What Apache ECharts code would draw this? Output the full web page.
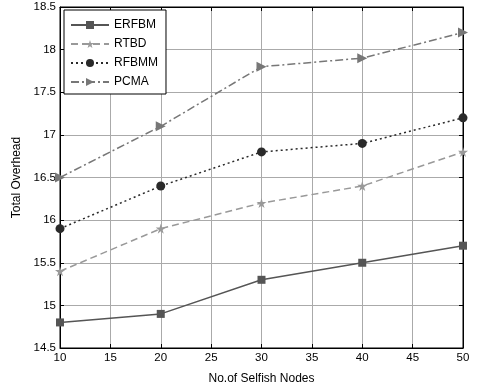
<!DOCTYPE html>
<html><head><meta charset="utf-8">
<script src="https://cdn.jsdelivr.net/npm/echarts@6/dist/echarts.min.js"></script>
<style>html,body{margin:0;padding:0;background:#fff}#c{width:484px;height:392px}</style>
</head><body><div id="c"></div>
<script>
const nodes = [10, 20, 30, 40, 50];
const erfbm = [14.8, 14.9, 15.3, 15.5, 15.7];
const rtbd = [15.4, 15.9, 16.2, 16.4, 16.8];
const rfbmm = [15.9, 16.4, 16.8, 16.9, 17.2];
const pcma = [16.5, 17.1, 17.8, 17.9, 18.2];
const seriesNames = ['ERFBM', 'RTBD', 'RFBMM', 'PCMA'];

const star = 'path://M50,0 L61,35 L98,35 L68,57 L79,91 L50,70 L21,91 L32,57 L2,35 L39,35 Z';
const pair = v => nodes.map((x, i) => [x, v[i]]);
const font = 'Liberation Sans, Arial, sans-serif';
const chart = echarts.init(document.getElementById('c'));
const axLine = {show: true, lineStyle: {color: '#000', width: 1}};
chart.setOption({
  animation: false,
  backgroundColor: '#fff',
  grid: {left: 60, right: 21, top: 7, bottom: 44, show: true, borderColor: '#000', borderWidth: 1},
  legend: {
    orient: 'vertical', left: 64, top: 10, itemWidth: 38, itemHeight: 10, itemGap: 7,
    padding: [9, 8, 6, 6], borderColor: '#000', borderWidth: 1, backgroundColor: '#fff',
    textStyle: {fontFamily: font, fontSize: 12, color: '#000'},
    data: seriesNames
  },
  xAxis: [{
    type: 'value', min: 10, max: 50, interval: 5,
    name: 'No.of Selfish Nodes', nameLocation: 'middle', nameGap: 25,
    nameTextStyle: {fontFamily: font, fontSize: 12, color: '#000'},
    axisLine: axLine, axisTick: {inside: true, length: 4, lineStyle: {color: '#000'}},
    axisLabel: {fontFamily: font, fontSize: 11.5, color: '#000', margin: 4},
    splitLine: {show: true, lineStyle: {color: '#aaaaaa', width: 1}}
  }, {
    type: 'value', position: 'top', min: 10, max: 50, interval: 5,
    axisLine: axLine, axisTick: {inside: true, length: 4, lineStyle: {color: '#000'}},
    axisLabel: {show: false}, splitLine: {show: false}
  }],
  yAxis: [{
    type: 'value', min: 14.5, max: 18.5, interval: 0.5,
    name: 'Total Overhead', nameLocation: 'middle', nameGap: 35,
    nameTextStyle: {fontFamily: font, fontSize: 12, color: '#000'},
    axisLine: axLine, axisTick: {inside: true, length: 4, lineStyle: {color: '#000'}},
    axisLabel: {fontFamily: font, fontSize: 11.5, color: '#000', margin: 4},
    splitLine: {show: true, lineStyle: {color: '#aaaaaa', width: 1}}
  }, {
    type: 'value', position: 'right', min: 14.5, max: 18.5, interval: 0.5,
    axisLine: axLine, axisTick: {inside: true, length: 4, lineStyle: {color: '#000'}},
    axisLabel: {show: false}, splitLine: {show: false}
  }],
  series: [
    {name: 'ERFBM', type: 'line', data: pair(erfbm), symbol: 'rect', symbolSize: 8,
     itemStyle: {color: '#555'}, lineStyle: {color: '#555', width: 1.5, type: 'solid'}},
    {name: 'RTBD', type: 'line', data: pair(rtbd), symbol: star, symbolSize: 10,
     itemStyle: {color: '#999'}, lineStyle: {color: '#999', width: 1.5, type: [7, 4]}},
    {name: 'RFBMM', type: 'line', data: pair(rfbmm), symbol: 'circle', symbolSize: 9,
     itemStyle: {color: '#2a2a2a'}, lineStyle: {color: '#2a2a2a', width: 1.5, type: [2, 3]}},
    {name: 'PCMA', type: 'line', data: pair(pcma), symbol: 'triangle', symbolRotate: -90, symbolSize: 10,
     itemStyle: {color: '#777'}, lineStyle: {color: '#777', width: 1.5, type: [8, 3, 2, 3]}}
  ]
});
</script></body></html>
